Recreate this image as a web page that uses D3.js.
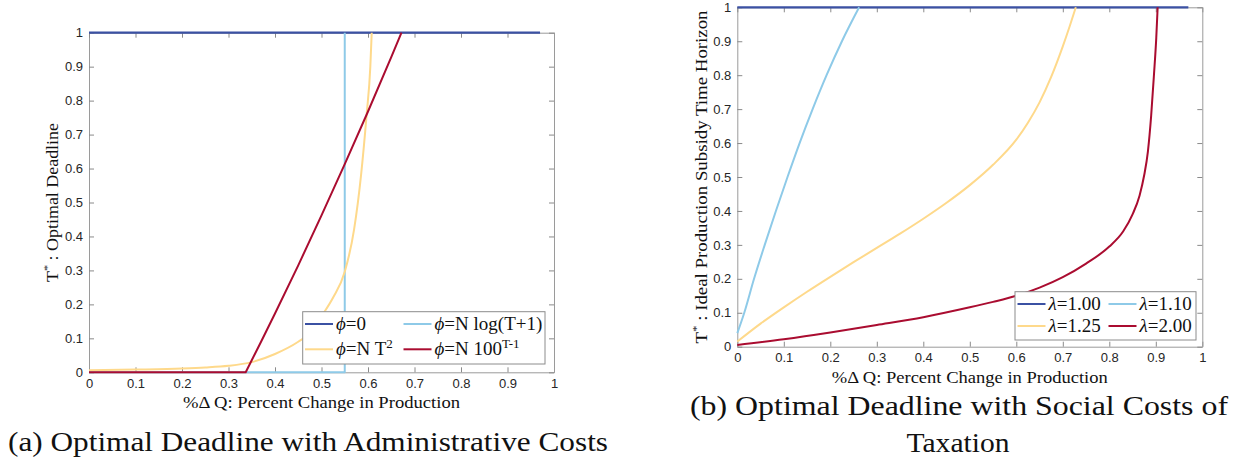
<!DOCTYPE html>
<html>
<head>
<meta charset="utf-8">
<script src="https://cdn.jsdelivr.net/npm/d3@7"></script>
<style>
  body { margin: 0; background: #fff; }
  .tick text { font-family: "Liberation Sans", Arial, sans-serif; font-size: 13px; fill: #262626; }
  text.serif, text.serif tspan { font-family: "Liberation Serif", "DejaVu Serif", "Times New Roman", Times, serif; fill: #111; }
</style>
</head>
<body>
<svg id="chart" width="1238" height="466"></svg>
<script>
// ---- data ----
const xTicks = [0, 0.1, 0.2, 0.3, 0.4, 0.5, 0.6, 0.7, 0.8, 0.9, 1];
const yTicks = [0, 0.1, 0.2, 0.3, 0.4, 0.5, 0.6, 0.7, 0.8, 0.9, 1];

// (a) administrative costs
const adminNames = ["ϕ=0", "ϕ=N log(T+1)", "ϕ=N T^2", "ϕ=N 100^T-1"];
const phiZeroX = [0, 0.97];
const phiZeroY = [1, 1];
const phiLogX = [0, 0.55, 0.55];
const phiLogY = [0, 0, 1];
const phiSqX = [0, 0.1, 0.2, 0.25, 0.3, 0.35, 0.4, 0.45, 0.475, 0.5, 0.525, 0.55, 0.57, 0.585, 0.597, 0.605, 0.608];
const phiSqY = [0.006, 0.008, 0.011, 0.014, 0.019, 0.03, 0.054, 0.09, 0.115, 0.165, 0.22, 0.296, 0.42, 0.58, 0.758, 0.9, 1];
const phiExpX = [0, 0.337, 0.37, 0.4, 0.45, 0.5, 0.55, 0.6, 0.65, 0.672];
const phiExpY = [0, 0, 0.09, 0.173, 0.315, 0.462, 0.613, 0.768, 0.928, 1];

// (b) social costs of taxation
const taxNames = ["λ=1.00", "λ=1.10", "λ=1.25", "λ=2.00"];
const lam100X = [0, 0.97];
const lam100Y = [1, 1];
const lam110X = [0, 0.015, 0.036, 0.059, 0.083, 0.108, 0.134, 0.162, 0.192, 0.225, 0.262];
const lam110Y = [0.04, 0.1, 0.2, 0.3, 0.4, 0.5, 0.6, 0.7, 0.8, 0.9, 1];
const lam125X = [0, 0.05, 0.1, 0.15, 0.2, 0.25, 0.3, 0.35, 0.4, 0.45, 0.5, 0.55, 0.6, 0.625, 0.65, 0.675, 0.7, 0.715, 0.728];
const lam125Y = [0.015, 0.068, 0.116, 0.162, 0.206, 0.249, 0.291, 0.333, 0.377, 0.424, 0.476, 0.536, 0.61, 0.66, 0.72, 0.795, 0.885, 0.945, 1];
const lam200X = [0, 0.1, 0.2, 0.3, 0.4, 0.5, 0.55, 0.6, 0.65, 0.7, 0.75, 0.8, 0.83, 0.85, 0.865, 0.875, 0.883, 0.89, 0.896, 0.901, 0.904];
const lam200Y = [0.005, 0.022, 0.042, 0.064, 0.087, 0.116, 0.132, 0.15, 0.174, 0.205, 0.245, 0.295, 0.34, 0.39, 0.445, 0.505, 0.575, 0.68, 0.8, 0.91, 1];

const colours = ["#3b51a3", "#8ecae8", "#fed98b", "#aa0c30"];

const zip = (xs, ys) => xs.map((x, i) => ({ x: x, y: ys[i] }));

// write "base^sup" text into a text element, with italic greek letter
function richText(sel, label, supSize) {
  const parts = label.split("^");
  const base = parts[0];
  const greek = base.charAt(0);
  if (/[ϕλ]/.test(greek)) {
    sel.append("tspan").style("font-style", "italic").text(greek);
    sel.append("tspan").text(base.slice(1));
  } else {
    sel.append("tspan").text(base);
  }
  if (parts.length > 1) {
    sel.append("tspan")
      .attr("dy", -7)
      .style("font-size", supSize)
      .text(parts[1]);
  }
}

class LinePanel {
  constructor(_config, _series) {
    this.config = _config;
    this.series = _series;
    this.initVis();
  }

  initVis() {
    let vis = this;
    const c = vis.config;

    vis.xScale = d3.scaleLinear().domain([0, 1]).range([c.left, c.right]);
    vis.yScale = d3.scaleLinear().domain([0, 1]).range([c.bottom, c.top]);

    const fmt = d3.format("~g");
    vis.svg = d3.select(c.parentElement);
    vis.g = vis.svg.append("g");

    const styleAxis = (g) => {
      g.select(".domain").attr("stroke", "#9a9a9a");
      g.selectAll(".tick line").attr("stroke", "#8a8a8a");
    };

    // bottom / left axes with labels, ticks pointing inside
    vis.g.append("g")
      .attr("transform", `translate(0,${c.bottom})`)
      .call(d3.axisBottom(vis.xScale).tickValues(xTicks).tickFormat(fmt)
        .tickSizeInner(-5).tickSizeOuter(0).tickPadding(6))
      .call(styleAxis);
    vis.g.append("g")
      .attr("transform", `translate(${c.left},0)`)
      .call(d3.axisLeft(vis.yScale).tickValues(yTicks).tickFormat(fmt)
        .tickSizeInner(-5).tickSizeOuter(0).tickPadding(6))
      .call(styleAxis);
    // top / right edges of the box
    vis.g.append("g")
      .attr("transform", `translate(0,${c.top})`)
      .call(d3.axisTop(vis.xScale).tickValues(xTicks).tickFormat("")
        .tickSizeInner(-5).tickSizeOuter(0))
      .call(styleAxis);
    vis.g.append("g")
      .attr("transform", `translate(${c.right},0)`)
      .call(d3.axisRight(vis.yScale).tickValues(yTicks).tickFormat("")
        .tickSizeInner(-5).tickSizeOuter(0))
      .call(styleAxis);

    // axis titles
    vis.g.append("text")
      .attr("class", "serif")
      .attr("x", (c.left + c.right) / 2)
      .attr("y", c.xTitleY)
      .attr("text-anchor", "middle")
      .attr("textLength", c.xTitleLen)
      .attr("lengthAdjust", "spacingAndGlyphs")
      .style("font-size", "16px")
      .text("%Δ Q: Percent Change in Production");

    const yt = vis.g.append("text")
      .attr("class", "serif")
      .attr("transform", `translate(${c.yTitleX},${(c.top + c.bottom) / 2}) rotate(-90)`)
      .attr("text-anchor", "middle")
      .attr("textLength", c.yTitleLen)
      .attr("lengthAdjust", "spacingAndGlyphs")
      .style("font-size", "16px");
    yt.append("tspan").text("T");
    yt.append("tspan").attr("dy", -7).style("font-size", "11px").text("*");
    yt.append("tspan").attr("dy", 7).text(" : " + c.yTitle);

    vis.renderVis();
  }

  renderVis() {
    let vis = this;
    const c = vis.config;

    const line = d3.line()
      .x(d => vis.xScale(d.x))
      .y(d => vis.yScale(d.y));

    vis.g.selectAll(".series")
      .data(vis.series)
      .join("path")
      .attr("class", "series")
      .attr("fill", "none")
      .attr("stroke", d => d.colour)
      .attr("stroke-width", d => d.width || 2)
      .attr("stroke-linejoin", "round")
      .attr("d", d => line.curve(d.smooth ? d3.curveMonotoneX : d3.curveLinear)(d.values));

    // legend, 2 x 2
    const lg = c.legend;
    const leg = vis.g.append("g");
    leg.append("rect")
      .attr("x", lg.x).attr("y", lg.y)
      .attr("width", lg.w).attr("height", lg.h)
      .attr("fill", "#fff")
      .attr("stroke", "#8c8c8c")
      .attr("stroke-width", 1);

    vis.series.forEach((s, i) => {
      const col = i % 2, row = Math.floor(i / 2);
      const x0 = lg.cols[col], yy = lg.rows[row];
      leg.append("line")
        .attr("x1", x0).attr("x2", x0 + 28)
        .attr("y1", yy).attr("y2", yy)
        .attr("stroke", s.colour)
        .attr("stroke-width", 2);
      const t = leg.append("text")
        .attr("class", "serif")
        .attr("x", x0 + 31)
        .attr("y", yy + 6)
        .style("font-size", "19px");
      richText(t, s.name, "13px");
    });
  }
}

const svg = d3.select("#chart");

new LinePanel({
  parentElement: "#chart",
  left: 89, right: 554, top: 32.7, bottom: 372.3,
  xTitleY: 408, xTitleLen: 277,
  yTitleX: 58, yTitleLen: 159, yTitle: "Optimal Deadline",
  legend: { x: 302.7, y: 311.7, w: 242.3, h: 52.3, cols: [305, 403.5], rows: [324, 349.3] }
}, [
  { name: adminNames[0], colour: colours[0], values: zip(phiZeroX, phiZeroY), width: 2.2 },
  { name: adminNames[1], colour: colours[1], values: zip(phiLogX, phiLogY) },
  { name: adminNames[2], colour: colours[2], values: zip(phiSqX, phiSqY), smooth: true },
  { name: adminNames[3], colour: colours[3], values: zip(phiExpX, phiExpY) }
]);

new LinePanel({
  parentElement: "#chart",
  left: 737.3, right: 1202.3, top: 7.3, bottom: 346.7,
  xTitleY: 382.5, xTitleLen: 276,
  yTitleX: 707, yTitleLen: 333, yTitle: "Ideal Production Subsidy Time Horizon",
  legend: { x: 1015, y: 291.7, w: 181, h: 48.3, cols: [1017.5, 1108.5], rows: [304, 326] }
}, [
  { name: taxNames[0], colour: colours[0], values: zip(lam100X, lam100Y), width: 2.2 },
  { name: taxNames[1], colour: colours[1], values: zip(lam110X, lam110Y), smooth: true },
  { name: taxNames[2], colour: colours[2], values: zip(lam125X, lam125Y), smooth: true },
  { name: taxNames[3], colour: colours[3], values: zip(lam200X, lam200Y), smooth: true }
]);

// sub-figure captions
svg.append("text")
  .attr("class", "serif")
  .attr("x", 8).attr("y", 451)
  .attr("textLength", 600)
  .attr("lengthAdjust", "spacingAndGlyphs")
  .style("font-size", "28px")
  .text("(a) Optimal Deadline with Administrative Costs");

svg.append("text")
  .attr("class", "serif")
  .attr("x", 690).attr("y", 415)
  .attr("textLength", 538)
  .attr("lengthAdjust", "spacingAndGlyphs")
  .style("font-size", "28px")
  .text("(b) Optimal Deadline with Social Costs of");

svg.append("text")
  .attr("class", "serif")
  .attr("x", 958).attr("y", 452)
  .attr("text-anchor", "middle")
  .attr("textLength", 103)
  .attr("lengthAdjust", "spacingAndGlyphs")
  .style("font-size", "28px")
  .text("Taxation");
</script>
</body>
</html>
